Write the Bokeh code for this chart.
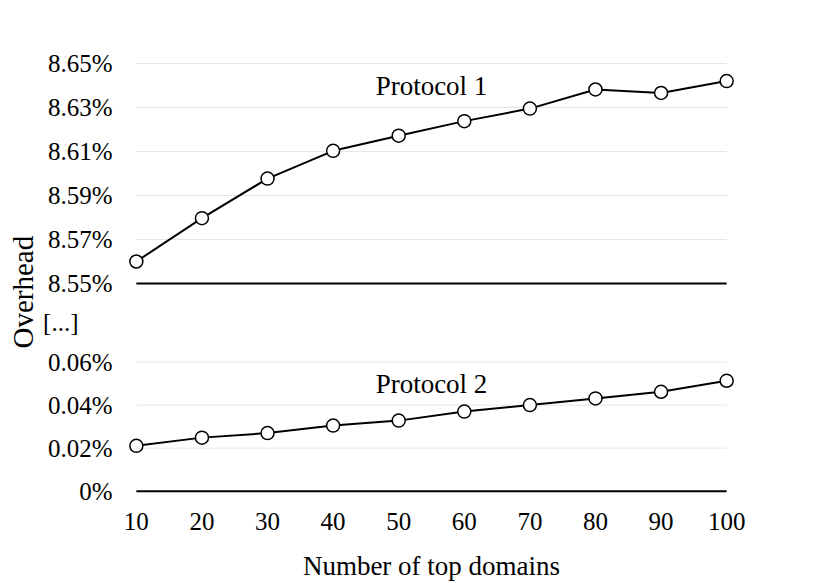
from bokeh.plotting import figure
from bokeh.layouts import row, column
from bokeh.models import Range1d, FixedTicker, Label
from bokeh.embed import file_html
from bokeh.resources import INLINE

# ---------------- data ----------------
DOMAINS = [10, 20, 30, 40, 50, 60, 70, 80, 90, 100]
PROTOCOL_1 = [8.5600, 8.5797, 8.5977, 8.6103, 8.6172, 8.6238, 8.6295, 8.6382, 8.6366, 8.6420]
PROTOCOL_2 = [0.0211, 0.0249, 0.0270, 0.0305, 0.0328, 0.0370, 0.0400, 0.0431, 0.0462, 0.0513]

TOP_TICKS = [8.55, 8.57, 8.59, 8.61, 8.63, 8.65]
TOP_TICK_LABELS = ["8.55%", "8.57%", "8.59%", "8.61%", "8.63%", "8.65%"]
BOTTOM_TICKS = [0.0, 0.02, 0.04, 0.06]
BOTTOM_TICK_LABELS = ["0%", "0.02%", "0.04%", "0.06%"]
X_TICKS = DOMAINS
X_TICK_LABELS = [str(d) for d in DOMAINS]

SERIES_1 = "Protocol 1"
SERIES_2 = "Protocol 2"
Y_LABEL = "Overhead"
X_LABEL = "Number of top domains"
BREAK_MARK = "[...]"

FONT = "Liberation Serif"
FS = "25px"
FS_TEXT = "27px"
FS_YLABEL = "29px"
GRID_COLOR = "#e4e7e7"

LAB_W = 40
MAIN_W = 830 - LAB_W
BORDER_L = 86
BORDER_R = MAIN_W - BORDER_L - 610
x_range = Range1d(8.5, 101.5)


def plain_yaxis(p, standoff):
    p.yaxis.axis_line_color = None
    p.yaxis.major_tick_line_color = None
    p.yaxis.minor_tick_line_color = None
    p.yaxis.major_label_standoff = standoff
    p.yaxis.major_label_text_font = FONT
    p.yaxis.major_label_text_font_size = FS
    p.yaxis.major_label_text_color = "black"


def style_panel(p, ticks, labels):
    p.outline_line_color = None
    p.xgrid.visible = False
    p.ygrid.visible = False
    p.yaxis.ticker = FixedTicker(ticks=ticks)
    p.yaxis.major_label_overrides = {t: l for t, l in zip(ticks, labels)}
    plain_yaxis(p, 8)
    # gridlines (between first and last category) and the black baseline
    x0 = [DOMAINS[0]] * (len(ticks) - 1)
    x1 = [DOMAINS[-1]] * (len(ticks) - 1)
    p.segment(x0=x0, x1=x1, y0=ticks[1:], y1=ticks[1:], line_color=GRID_COLOR, line_width=1)
    p.segment(x0=[DOMAINS[0]], x1=[DOMAINS[-1]], y0=[ticks[0]], y1=[ticks[0]],
              line_color="black", line_width=2)


def draw_series(p, ys):
    p.line(DOMAINS, ys, line_color="black", line_width=2)
    p.scatter(DOMAINS, ys, size=13, fill_color="white", line_color="black", line_width=1.5)


# ---------------- top panel ----------------
top = figure(width=MAIN_W, height=300, output_backend="svg", toolbar_location=None,
             x_range=x_range, y_range=Range1d(8.545, 8.655),
             x_axis_location=None,
             min_border_left=BORDER_L, min_border_right=BORDER_R, min_border_top=52, min_border_bottom=6)
style_panel(top, TOP_TICKS, TOP_TICK_LABELS)
draw_series(top, PROTOCOL_1)
top.add_layout(Label(x=55, y=8.6396, text=SERIES_1, text_align="center", text_baseline="middle",
                     text_font=FONT, text_font_size=FS_TEXT, text_color="black"))

# ---------------- break strip: the "[...]" mark on the value axis ----------------
strip = figure(width=MAIN_W, height=46, output_backend="svg", toolbar_location=None,
               x_range=x_range, y_range=Range1d(0, 46), x_axis_location=None,
               min_border_left=BORDER_L, min_border_right=BORDER_R, min_border_top=0, min_border_bottom=0)
strip.outline_line_color = None
strip.xgrid.visible = False
strip.ygrid.visible = False
strip.yaxis.ticker = FixedTicker(ticks=[24])
strip.yaxis.major_label_overrides = {24: BREAK_MARK}
plain_yaxis(strip, 42)

# ---------------- bottom panel ----------------
bottom = figure(width=MAIN_W, height=237, output_backend="svg", toolbar_location=None,
                x_range=x_range, y_range=Range1d(-0.0043, 0.0649),
                min_border_left=BORDER_L, min_border_right=BORDER_R, min_border_top=5, min_border_bottom=82)
style_panel(bottom, BOTTOM_TICKS, BOTTOM_TICK_LABELS)
draw_series(bottom, PROTOCOL_2)
bottom.add_layout(Label(x=55, y=0.0497, text=SERIES_2, text_align="center", text_baseline="middle",
                        text_font=FONT, text_font_size=FS_TEXT, text_color="black"))
bottom.xaxis.ticker = FixedTicker(ticks=X_TICKS)
bottom.xaxis.major_label_overrides = {t: l for t, l in zip(X_TICKS, X_TICK_LABELS)}
bottom.xaxis.axis_line_color = None
bottom.xaxis.major_tick_line_color = None
bottom.xaxis.minor_tick_line_color = None
bottom.xaxis.major_label_standoff = 6
bottom.xaxis.major_label_text_font = FONT
bottom.xaxis.major_label_text_font_size = FS
bottom.xaxis.major_label_text_color = "black"
bottom.xaxis.axis_label = X_LABEL
bottom.xaxis.axis_label_text_font = FONT
bottom.xaxis.axis_label_text_font_size = FS_TEXT
bottom.xaxis.axis_label_text_font_style = "normal"
bottom.xaxis.axis_label_text_color = "black"
bottom.xaxis.axis_label_standoff = 18

# ---------------- y label column ----------------
lab = figure(width=LAB_W, height=583, output_backend="svg", toolbar_location=None,
             x_range=Range1d(0, LAB_W), y_range=Range1d(0, 583),
             x_axis_type=None, y_axis_type=None, min_border=0)
lab.outline_line_color = None
lab.xgrid.visible = False
lab.ygrid.visible = False
lab.add_layout(Label(x=22.5, y=291.3, text=Y_LABEL, angle=90, angle_units="deg",
                     text_align="center", text_baseline="middle",
                     text_font=FONT, text_font_size=FS_YLABEL, text_color="black"))

layout = row(lab, column(top, strip, bottom))
open("out.html", "w").write(file_html(layout, INLINE))
